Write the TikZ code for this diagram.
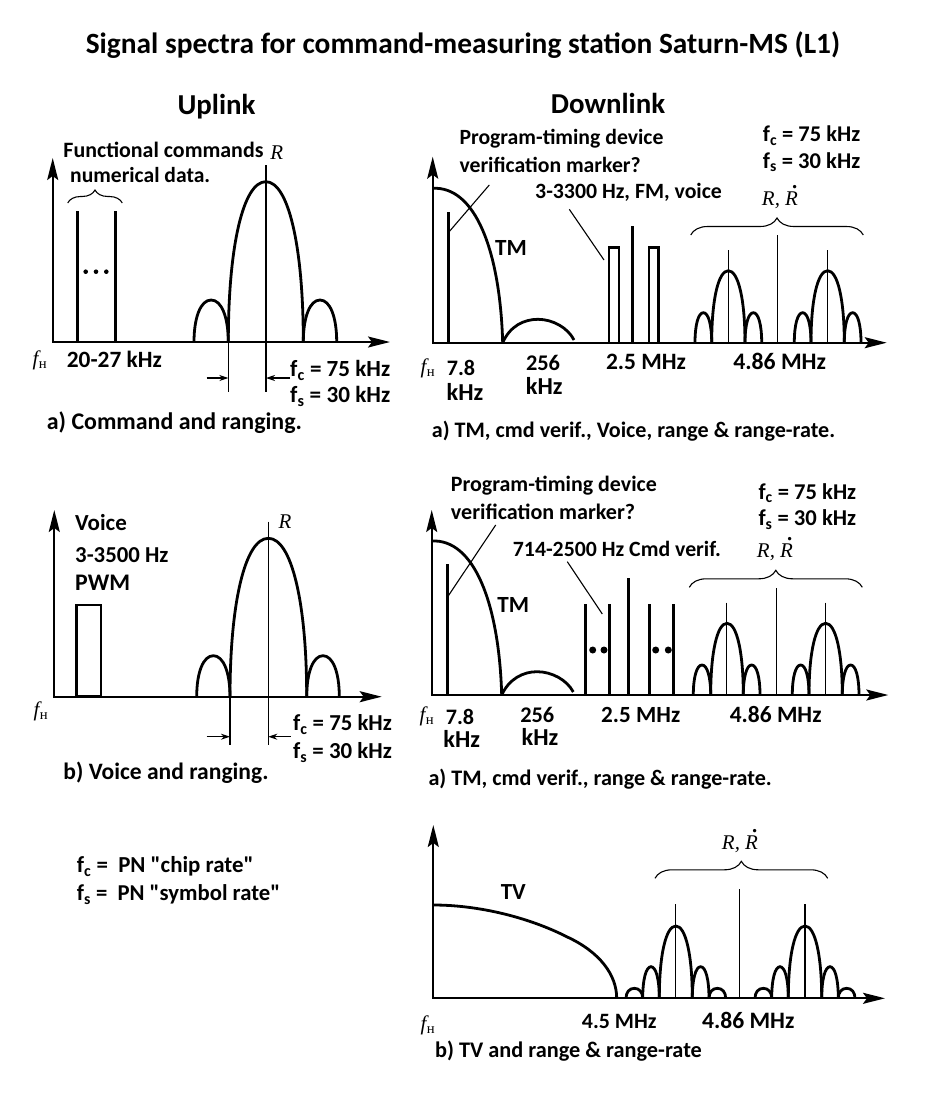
\documentclass[tikz,border=0pt]{standalone}
\usepackage{fontspec}
\setmainfont{Carlito}[Ligatures=TeXOff]
\newfontfamily\tms{Liberation Serif}
\usetikzlibrary{arrows.meta,decorations.pathreplacing}
\newcommand\fw[2]{\resizebox{#1bp}{!}{#2}}
\newcommand\fcs{f\textsubscript{c}}
\newcommand\fss{f\textsubscript{s}}
\newcommand\fH{{\tms\itshape f\kern0.5pt\textsubscript{\upshape н}}}
\newcommand\RRd{{\tms\itshape R, \makebox[0pt][l]{\hspace{0.36em}\raisebox{0.8em}{\bfseries .}}R}}
\newcommand\lobe[4]{\draw[curve] (#1,#4) .. controls (#1,{#4-0.6*(#3)}) and ({#1+0.2*(#2-#1)},{#4-(#3)}) .. ({(#1+#2)/2},{#4-(#3)}) .. controls ({#2-0.2*(#2-#1)},{#4-(#3)}) and (#2,{#4-0.6*(#3)}) .. (#2,#4);}
\begin{document}
\begin{tikzpicture}[x=1bp,y=-1bp,
  lbl/.style={font=\fontsize{23}{26}\selectfont\bfseries, inner sep=0pt, text height=15bp, text depth=0pt},
  ttl/.style={font=\fontsize{29.5}{32}\selectfont\bfseries, inner sep=0pt},
  hdr/.style={font=\fontsize{29}{32}\selectfont\bfseries, inner sep=0pt},
  mth/.style={font=\fontsize{21}{24}\selectfont, inner sep=0pt},
  axis/.style={line width=2bp, {Stealth[length=22bp,width=11bp,inset=4bp]}-{Stealth[length=22bp,width=11bp,inset=4bp]}},
  curve/.style={line width=2.8bp},
  bar/.style={line width=3bp},
  thinl/.style={line width=1.1bp},
  dimarr/.style={line width=1.1bp, -{Stealth[length=9bp,width=6bp]}},
  brc/.style={line width=1.1bp, decorate, decoration={brace, amplitude=#1}},
  dot/.style={fill=black, inner sep=0pt, circle, minimum size=#1}
]
\useasboundingbox[fill=white] (0,0) rectangle (927,1093);

\node[ttl] (title) at (463,45) {Signal spectra for command-measuring station Saturn-MS (L1)};
\node[hdr] (up) at (216.5,107) {Uplink};
\node[hdr] (down) at (608,103) {Downlink};

%% ---------- Uplink a ----------
\draw[axis] (52.7,158) -- (52.7,342) -- (390,342);
\draw[bar] (77.7,342) -- (77.7,211);
\draw[bar] (115.7,342) -- (115.7,211);
\node[dot=4.6bp] (ua1) at (85.7,271.7) {};
\node[dot=4.6bp] (ua2) at (96,271.7) {};
\node[dot=4.6bp] (ua3) at (106.3,271.7) {};
\draw[brc=13bp] (67.7,203) -- (122.3,203);
\node[lbl, anchor=west] (uafc) at (63.3,150) {\fw{200}{Functional commands}};
\node[lbl, anchor=west] (uand) at (70,175) {\fw{140}{numerical data.}};
\node[mth] (uaR) at (276.7,153) {\tms\itshape R};
\draw[thinl] (266,165) -- (266,391.7);
\draw[thinl] (228.3,342) -- (228.3,391.7);
\lobe{228.3}{303.3}{160.3}{342}
\lobe{194}{228.3}{42}{342}
\lobe{303.3}{336.7}{42}{342}
\draw[dimarr] (206.7,378) -- (228.3,378);
\draw[dimarr] (290,378) -- (266,378);
\node[mth] (uafh) at (40,360) {\fH};
\node[lbl, anchor=west] (uak) at (66.7,360) {\fw{95}{20-27 kHz}};
\node[lbl, anchor=west] (uac) at (290,369) {\fw{100}{\fcs{} = 75 kHz}};
\node[lbl, anchor=west] (uas) at (290,395) {\fw{100}{\fss{} = 30 kHz}};
\node[lbl, anchor=west] (uacap) at (46.7,422) {\fw{255}{a) Command and ranging.}};

%% ---------- Uplink b ----------
\draw[axis] (54.3,510) -- (54.3,696.7) -- (381.7,696.7);
\draw[line width=2.6bp] (76.7,696.7) rectangle (101,605);
\node[lbl, anchor=west] (ubv) at (75,523) {\fw{51.7}{Voice}};
\node[lbl, anchor=west] (ubh) at (75,555) {\fw{93.3}{3-3500 Hz}};
\node[lbl, anchor=west] (ubp) at (75,583) {\fw{55}{PWM}};
\node[mth] (ubR) at (285,521.7) {\tms\itshape R};
\draw[thinl] (268.3,521.7) -- (268.3,745);
\draw[thinl] (230,696.7) -- (230,745);
\lobe{230}{306.7}{158.4}{696.7}
\lobe{196.7}{230}{41}{696.7}
\lobe{306.7}{339.3}{41}{696.7}
\draw[dimarr] (206.7,736.7) -- (230,736.7);
\draw[dimarr] (290.7,736.7) -- (268.3,736.7);
\node[mth] (ubfh) at (41,711.7) {\fH};
\node[lbl, anchor=west] (ubc) at (293,723) {\fw{98.7}{\fcs{} = 75 kHz}};
\node[lbl, anchor=west] (ubs) at (293,751) {\fw{98.7}{\fss{} = 30 kHz}};
\node[lbl, anchor=west] (ubcap) at (63.3,772) {\fw{205}{b) Voice and ranging.}};

%% legend
\node[lbl, anchor=west] (lgc) at (76.7,865) {\fw{176.7}{\fcs{} =\ \ PN "chip rate"}};
\node[lbl, anchor=west] (lgs) at (76.7,893.3) {\fw{203.3}{\fss{} =\ \ PN "symbol rate"}};

%% ---------- Downlink a (1) ----------
\draw[axis] (432.7,156.7) -- (432.7,342.7) -- (886.7,342.7);
\draw[curve] (432.7,188.3) .. controls (475,186) and (500,250) .. (502.7,342.7);
\draw[curve] (502.7,342.7) .. controls (510,326) and (524,319.3) .. (538,319.3) .. controls (553,319.3) and (568,328) .. (574,340);
\draw[bar] (448.3,342.7) -- (448.3,211.7);
\draw[thinl] (448.3,232.7) -- (489.3,185);
\node[lbl, anchor=west] (d1p) at (459.3,137.3) {\fw{204}{Program-timing device}};
\node[lbl, anchor=west] (d1v) at (459.3,165) {\fw{181.3}{verification marker?}};
\node[lbl] (d1tm) at (511,248.3) {\fw{31.7}{TM}};
\node[lbl, anchor=west] (d1h) at (535,190.7) {\fw{186.7}{3-3300 Hz, FM, voice}};
\draw[thinl] (569.3,209.3) -- (604,260);
\draw[line width=2.4bp] (609,342.7) rectangle (619,247.3);
\draw[bar] (632.3,342.7) -- (632.3,226);
\draw[line width=2.4bp] (649,342.7) rectangle (658.3,247.3);
\node[lbl, anchor=west] (d1c) at (762.7,134) {\fw{97.3}{\fcs{} = 75 kHz}};
\node[lbl, anchor=west] (d1s) at (762.7,160.7) {\fw{97.3}{\fss{} = 30 kHz}};
\node[mth] (d1R) at (780,197) {\RRd};
\draw[brc=17bp] (690.7,235) -- (863.3,235);
\draw[thinl] (777.7,235) -- (777.7,342.7);
\draw[thinl] (728.3,250) -- (728.3,342.7);
\lobe{711.7}{745}{72}{342.7}
\lobe{695}{711.7}{30}{342.7}
\lobe{745}{761.7}{30}{342.7}
\draw[thinl] (827.7,250) -- (827.7,342.7);
\lobe{811}{844.3}{72}{342.7}
\lobe{794.3}{811}{30}{342.7}
\lobe{844.3}{861}{30}{342.7}
\node[mth] (d1fh) at (428,368) {\fH};
\node[lbl] (d1a) at (461,368.3) {\fw{28.3}{7.8}};
\node[lbl] (d1ak) at (465,393.3) {\fw{36.7}{kHz}};
\node[lbl] (d1b) at (543,363.3) {\fw{34}{256}};
\node[lbl] (d1bk) at (544.3,387) {\fw{36.7}{kHz}};
\node[lbl] (d1m) at (646,361.7) {\fw{80}{2.5 MHz}};
\node[lbl] (d1n) at (779.7,361.7) {\fw{92.7}{4.86 MHz}};
\node[lbl, anchor=west] (d1cap) at (431.7,430) {\fw{403.3}{a) TM, cmd verif., Voice, range \& range-rate.}};

%% ---------- Downlink a (2) ----------
\draw[axis] (431.7,510) -- (431.7,695) -- (888.3,695);
\draw[curve] (431.7,541) .. controls (474,538.7) and (499,603) .. (501.7,695);
\draw[curve] (501.7,695) .. controls (509,679) and (523,671.7) .. (537,671.7) .. controls (552,671.7) and (567,680) .. (573.3,692);
\draw[bar] (447.7,695) -- (447.7,564.3);
\draw[thinl] (447.7,596.7) -- (495.7,525);
\node[lbl, anchor=west] (d2p) at (450.7,484) {\fw{206}{Program-timing device}};
\node[lbl, anchor=west] (d2v) at (450.7,511.7) {\fw{184.3}{verification marker?}};
\node[lbl] (d2tm) at (513.3,605) {\fw{31.7}{TM}};
\node[lbl, anchor=west] (d2h) at (512.7,549.3) {\fw{208}{714-2500 Hz Cmd verif.}};
\draw[thinl] (567.3,561.7) -- (602.3,614);
\draw[bar] (585.7,695) -- (585.7,604);
\draw[bar] (609.3,695) -- (609.3,604);
\draw[bar] (628.3,695) -- (628.3,578.3);
\draw[bar] (649,695) -- (649,604);
\draw[bar] (673.3,695) -- (673.3,604);
\node[dot=7bp] (d2d1) at (592.7,650) {};
\node[dot=7bp] (d2d2) at (604,650) {};
\node[dot=7bp] (d2d3) at (655.7,650) {};
\node[dot=7bp] (d2d4) at (668.3,650) {};
\node[lbl, anchor=west] (d2c) at (758.3,491.7) {\fw{97.7}{\fcs{} = 75 kHz}};
\node[lbl, anchor=west] (d2s) at (758.3,518.3) {\fw{97.7}{\fss{} = 30 kHz}};
\node[mth] (d2R) at (775,549) {\RRd};
\draw[brc=17bp] (689.3,587.3) -- (862.3,587.3);
\draw[thinl] (776.7,588.3) -- (776.7,695);
\draw[thinl] (726.7,602.7) -- (726.7,695);
\lobe{710.7}{743.3}{71.7}{695}
\lobe{693.3}{710.7}{30}{695}
\lobe{743.3}{760}{30}{695}
\draw[thinl] (825.7,602.7) -- (825.7,695);
\lobe{809}{842.3}{71.7}{695}
\lobe{792.3}{809}{30}{695}
\lobe{842.3}{859}{30}{695}
\node[mth] (d2fh) at (427,716.7) {\fH};
\node[lbl] (d2a) at (460,716.7) {\fw{28.3}{7.8}};
\node[lbl] (d2ak) at (461.7,740) {\fw{36.7}{kHz}};
\node[lbl] (d2b) at (537.3,715) {\fw{34}{256}};
\node[lbl] (d2bk) at (540,737.7) {\fw{36.7}{kHz}};
\node[lbl] (d2m) at (640.7,715) {\fw{79}{2.5 MHz}};
\node[lbl] (d2n) at (775.7,715) {\fw{91.7}{4.86 MHz}};
\node[lbl, anchor=west] (d2cap) at (428.3,778.3) {\fw{343.3}{a) TM, cmd verif., range \& range-rate.}};

%% ---------- Downlink b ----------
\draw[axis] (433.3,825) -- (433.3,998.3) -- (885,998.3);
\draw[curve] (433.3,905) .. controls (480,905) and (530,918) .. (566.7,936.7) .. controls (600,952) and (616.7,975) .. (616.7,998.3);
\node[lbl] (d3tv) at (513.3,891.7) {\fw{25}{TV}};
\node[mth] (d3R) at (740,841) {\RRd};
\draw[brc=17bp] (655,878.3) -- (827.7,878.3);
\draw[thinl] (739.3,889.3) -- (739.3,998.3);
\draw[thinl] (675.7,904.3) -- (675.7,998.3);
\lobe{659.3}{692.3}{72.3}{998.3}
\lobe{642.7}{659.3}{31.6}{998.3}
\lobe{692.3}{709}{31.6}{998.3}
\lobe{626}{642.7}{10}{998.3}
\lobe{709}{725.7}{10}{998.3}
\draw[thinl] (805,904.3) -- (805,998.3);
\lobe{788.3}{821.7}{72.3}{998.3}
\lobe{771.7}{788.3}{31.6}{998.3}
\lobe{821.7}{838.3}{31.6}{998.3}
\lobe{755}{771.7}{10}{998.3}
\lobe{838.3}{855}{10}{998.3}
\node[mth] (d3fh) at (428,1025) {\fH};
\node[lbl] (d3a) at (619.3,1021) {\fw{74.7}{4.5 MHz}};
\node[lbl] (d3b) at (748.3,1021) {\fw{92.3}{4.86 MHz}};
\node[lbl, anchor=west] (d3cap) at (435,1050) {\fw{266.7}{b) TV and range \& range-rate}};
\end{tikzpicture}
\end{document}
